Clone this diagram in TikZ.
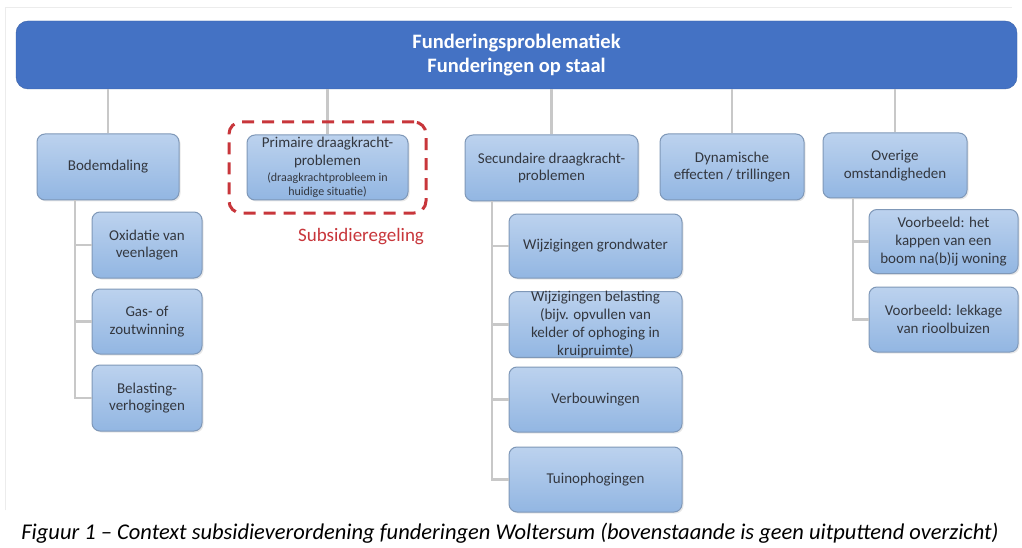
\documentclass[tikz,border=0pt]{standalone}
\usepackage{fontspec}
\setmainfont{Carlito}
\usetikzlibrary{fit,shadows}

\definecolor{barblue}{HTML}{4472C4}
\definecolor{boxtop}{HTML}{BCD2EE}
\definecolor{boxbot}{HTML}{92B6E2}
\definecolor{boxline}{HTML}{7F98B8}
\definecolor{boxtext}{HTML}{33373F}
\definecolor{linegray}{HTML}{C8C8C8}
\definecolor{subsred}{HTML}{C8363B}

\newcommand{\smallline}{\fontsize{12}{13}\selectfont}

\tikzset{
  sized/.style 2 args={minimum width=#1pt, minimum height=#2pt},
  topbar/.style={fill=barblue, draw=barblue!85!black, rounded corners=12pt, text=white,
    font=\fontsize{20.5}{24}\selectfont\bfseries, align=center, inner sep=0pt},
  catbox/.style={draw=boxline, line width=1pt, rounded corners=8pt, top color=boxtop,
    bottom color=boxbot, text=boxtext, font=\fontsize{15}{17.7}\selectfont,
    align=center, inner sep=0pt,
    drop shadow={opacity=0.18, shadow xshift=1.5pt, shadow yshift=-1.5pt}},
  conn/.style={linegray, line width=2.5pt},
  subsframe/.style={draw=subsred, line width=3pt, dash pattern=on 12pt off 8pt, rounded corners=12pt},
}

\begin{document}
\begin{tikzpicture}[x=1pt, y=-1pt]
    % Page and faint frame
    \fill[white] (0,0) rectangle (1022,548);
    \useasboundingbox (0,0) rectangle (1022,548);
    \draw[gray!15, line width=1pt] (5,510) -- (5,8) -- (1012,8);

    % Top bar
    \node[topbar, sized={1001}{68}] (bar) at (516.5,55) {Funderingsproblematiek\\Funderingen op staal};

    % Main categories
    \node[catbox, sized={142}{66}] (bod) at (108,167) {Bodemdaling};
    \node[catbox, sized={161}{65}] (pri) at (327.5,167.5) {Primaire draagkracht-\\problemen\\[-2pt] \smallline (draagkrachtprobleem in\\[-3pt] \smallline huidige situatie)};
    \node[catbox, sized={173}{66}] (sec) at (551.5,168) {Secundaire draagkracht-\\problemen};
    \node[catbox, sized={144}{66}] (dyn) at (732,167) {Dynamische\\effecten / trillingen};
    \node[catbox, sized={144}{65}] (ove) at (895,165.5) {Overige\\omstandigheden};

    % Bodemdaling causes
    \node[catbox, sized={110}{66}] (oxi) at (147,245) {Oxidatie van\\veenlagen};
    \node[catbox, sized={110}{65}] (gas) at (147,321.5) {Gas- of\\zoutwinning};
    \node[catbox, sized={110}{66}] (bel) at (147,398) {Belasting-\\verhogingen};

    % Secundaire causes
    \node[catbox, sized={173}{64}] (grw) at (595.5,246) {Wijzigingen grondwater};
    \node[catbox, sized={173}{65}] (wbe) at (595.5,324.5) {Wijzigingen belasting\\(bijv. opvullen van\\kelder of ophoging in\\kruipruimte)};
    \node[catbox, sized={173}{65}] (ver) at (595.5,399.5) {Verbouwingen};
    \node[catbox, sized={173}{65}] (tui) at (595.5,479.5) {Tuinophogingen};

    % Overige examples
    \node[catbox, sized={149}{64}] (kap) at (943.5,241.5) {Voorbeeld: het\\kappen van een\\boom na(b)ij woning};
    \node[catbox, sized={149}{65}] (lek) at (943.5,319.5) {Voorbeeld: lekkage\\van rioolbuizen};

    % Connectors from the top bar
    \foreach \n in {bod,pri,sec,dyn,ove}
        \draw[conn] (bar.south -| \n.north) -- (\n.north);

    % Trunks to the sub boxes
    \coordinate (bodtrunk) at ([xshift=-33pt]bod.south);
    \coordinate (sectrunk) at ([xshift=-59.5pt]sec.south);
    \coordinate (ovetrunk) at ([xshift=-42pt]ove.south);
    \foreach \c in {oxi,gas,bel}
        \draw[conn] (bodtrunk) |- (\c.west);
    \foreach \c in {grw,wbe,ver,tui}
        \draw[conn] (sectrunk) |- (\c.west);
    \foreach \c in {kap,lek}
        \draw[conn] (ovetrunk) |- (\c.west);

    % Subsidy frame and label
    \node[subsframe, fit=(pri), inner xsep=17.5pt, inner ysep=12.5pt] (subs) {};
    \node[text=subsred, font=\fontsize{19}{22}\selectfont, anchor=base east] (sublbl) at ([yshift=-27pt]subs.south east) {Subsidieregeling};

    % Caption
    \node[font=\fontsize{22.5}{26}\selectfont\itshape, anchor=base] (cap) at (510,539) {Figuur 1 – Context subsidieverordening funderingen Woltersum (bovenstaande is geen uitputtend overzicht)};
\end{tikzpicture}
\end{document}
